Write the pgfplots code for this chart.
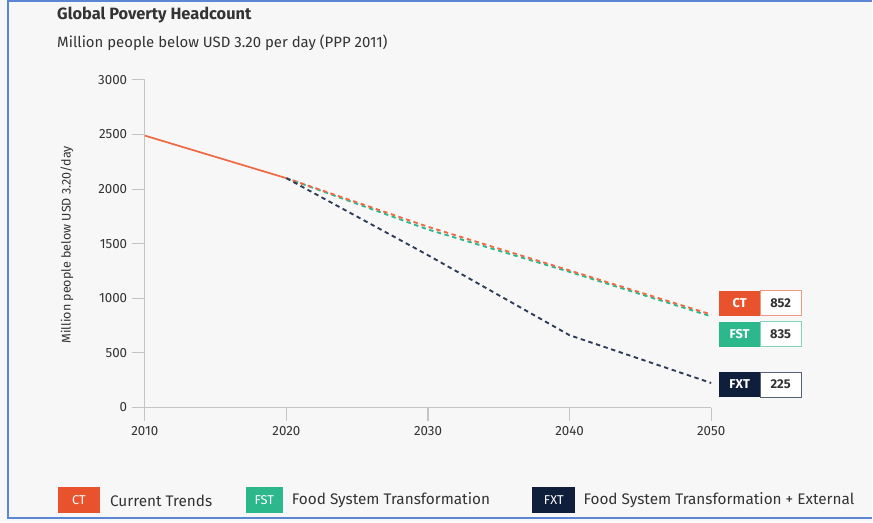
\documentclass[border=0pt]{standalone}
\usepackage{pgfplots}
\pgfplotsset{compat=1.18}
\usepackage{fontspec}
\setmainfont{Fira Sans}
\definecolor{bg}{HTML}{F7F7F7}
\definecolor{frame}{HTML}{5B86D6}
\definecolor{ctc}{HTML}{E8532E}
\definecolor{ctl}{HTML}{EE6A45}
\definecolor{fstc}{HTML}{2DB88C}
\definecolor{fxtc}{HTML}{0F1E3A}
\definecolor{fxtl}{HTML}{2E3C58}
\definecolor{axc}{HTML}{C4C4C4}
\definecolor{txt}{HTML}{333333}
\begin{document}
\begin{tikzpicture}
\begin{scope}[x=0.75pt,y=-0.75pt]
\fill[bg] (0,0) rectangle (873,523);
\draw[frame, line width=1.5pt] (873,1) -- (8.5,1) -- (8.5,519) -- (873,519);
\node[anchor=west, font=\bfseries\fontsize{12.3}{14}\selectfont, text=txt, inner sep=0] at (57,15) {Global Poverty Headcount};
\node[anchor=west, font=\fontsize{11.2}{13}\selectfont, text=txt, inner sep=0] at (57,43) {Million people below USD 3.20 per day (PPP 2011)};
\node[rotate=90, font=\fontsize{9.4}{11}\selectfont, text=txt, inner sep=0] at (67,245) {Million people below USD 3.20/day};
\end{scope}
\begin{axis}[
  at={(108.75pt,-306pt)}, anchor=south west,
  scale only axis, width=425.25pt, height=246pt,
  xmin=2010, xmax=2050, ymin=0, ymax=3000,
  axis x line*=bottom, axis y line*=left,
  axis line style={axc, line width=0.8pt},
  xtick={2010,2020,2030,2040,2050},
  ytick={0,500,1000,1500,2000,2500,3000},
  tick align=outside, major tick length=9.75pt,
  tick style={axc, line width=0.8pt},
  xticklabel style={/pgf/number format/1000 sep={}, font=\fontsize{10}{12}\selectfont, text=txt, yshift=-1pt},
  yticklabel style={/pgf/number format/1000 sep={}, font=\fontsize{10}{12}\selectfont, text=txt},
  /pgf/number format/assume math mode=true,
  clip=false,
]
\addplot[ctl, line width=1.3pt] coordinates {(2010,2490) (2020,2100)};
\addplot[fstc, line width=1.4pt, dash pattern=on 3.3pt off 2.7pt] coordinates {(2020,2100) (2030,1630) (2040,1242) (2050,835)};
\addplot[ctl, line width=1.4pt, dash pattern=on 3.3pt off 2.7pt, dash phase=1.1pt] coordinates {(2020,2100) (2030,1655) (2040,1255) (2050,852)};
\addplot[fxtl, line width=1.4pt, dash pattern=on 3.3pt off 2.7pt] coordinates {(2020,2100) (2030,1395) (2040,662) (2050,225)};
\end{axis}
\begin{scope}[x=0.75pt,y=-0.75pt]
% end labels
\fill[ctc] (720,291) rectangle (761.5,316);
\draw[ctc!60, fill=white, line width=0.8pt] (761.5,291) rectangle (802,316);
\node[text=white, font=\bfseries\fontsize{9.6}{11}\selectfont] at (740.5,303.5) {CT};
\node[text=txt, font=\bfseries\fontsize{9.6}{11}\selectfont] at (781.5,303.5) {852};
\fill[fstc] (720,322) rectangle (761.5,347);
\draw[fstc!60, fill=white, line width=0.8pt] (761.5,322) rectangle (802,347);
\node[text=white, font=\bfseries\fontsize{9.6}{11}\selectfont] at (740.5,334.5) {FST};
\node[text=txt, font=\bfseries\fontsize{9.6}{11}\selectfont] at (781.5,334.5) {835};
\fill[fxtc] (720,372.5) rectangle (761.5,397.5);
\draw[fxtc!70, fill=white, line width=0.8pt] (761.5,372.5) rectangle (802,397.5);
\node[text=white, font=\bfseries\fontsize{9.6}{11}\selectfont] at (740.5,385) {FXT};
\node[text=txt, font=\bfseries\fontsize{9.6}{11}\selectfont] at (781.5,385) {225};
% legend
\fill[ctc] (58,488) rectangle (100,514);
\node[text=white, font=\fontsize{9.6}{11}\selectfont] at (79,501) {CT};
\node[anchor=west, text=txt, font=\fontsize{11.5}{13}\selectfont, inner sep=0] at (110,501) {Current Trends};
\fill[fstc] (246,488) rectangle (283,514);
\node[text=white, font=\fontsize{9.6}{11}\selectfont] at (264.5,501) {FST};
\node[anchor=west, text=txt, font=\fontsize{11.5}{13}\selectfont, inner sep=0] at (292,501) {Food System Transformation};
\fill[fxtc] (533,488) rectangle (576,514);
\node[text=white, font=\fontsize{9.6}{11}\selectfont] at (554.5,501) {FXT};
\node[anchor=west, text=txt, font=\fontsize{11.5}{13}\selectfont, inner sep=0] at (584,501) {Food System Transformation + External};
\end{scope}
\end{tikzpicture}
\end{document}
